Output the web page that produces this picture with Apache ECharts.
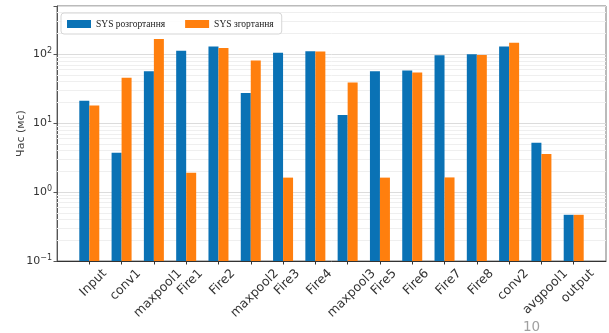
<!DOCTYPE html>
<html>
<head>
<meta charset="utf-8">
<script src="https://cdn.jsdelivr.net/npm/echarts@6/dist/echarts.min.js"></script>
<style>
  html, body { margin: 0; padding: 0; background: #fff; }
  #chart { width: 609px; height: 333px; }
</style>
</head>
<body>
<div id="chart"></div>
<script>
// SqueezeNet layers: execution time per layer, deployment vs. folding
const layers = ['Input', 'conv1', 'maxpool1', 'Fire1', 'Fire2', 'maxpool2', 'Fire3', 'Fire4',
                'maxpool3', 'Fire5', 'Fire6', 'Fire7', 'Fire8', 'conv2', 'avgpool1', 'output'];
const deployMs = [21.1, 3.73, 56.7, 112, 129, 27.3, 105, 110, 13.1, 56.7, 58, 96.7, 100, 129, 5.2, 0.468];
const foldMs   = [18.0, 45.4, 166, 1.91, 123, 80.8, 1.62, 109, 38.8, 1.62, 54.2, 1.63, 97.7, 146, 3.57, 0.468];
const seriesNames = ['SYS розгортання', 'SYS згортання'];
const yTicks = [0.1, 1, 10, 100];
const yMin = 0.1, yMax = 500;
const pageNumber = '10';

// light log grid lines between the decades
const minorGrid = [];
for (let d = 0.1; d < yMax; d *= 10) {
  for (let k = 2; k <= 9; k++) {
    const v = +(d * k).toPrecision(3);
    if (v < yMax) minorGrid.push({ yAxis: v });
  }
}

// one empty slot on each side keeps a margin around the groups
const xData = [''].concat(layers, ['']);
const pad = arr => [null].concat(arr, [null]);

// rotated category labels hang below their tick, centred on it
const LABEL_FONT = '12.5px "DejaVu Sans"';
const ctx = document.createElement('canvas').getContext('2d');
ctx.font = LABEL_FONT;
const labelData = layers.map((name, i) => [i + 1, yMin]);

const sup = { '-1': '−1', '0': '0', '1': '1', '2': '2', '3': '3' };

const chart = echarts.init(document.getElementById('chart'), null, { renderer: 'canvas' });
chart.setOption({
  animation: false,
  backgroundColor: '#fff',
  textStyle: { fontFamily: '"DejaVu Sans", sans-serif' },
  grid: {
    left: 57, right: 3, top: 6, bottom: 72,
    outerBoundsMode: 'none', containLabel: false,
    show: true, borderColor: '#777', borderWidth: 1, backgroundColor: 'transparent'
  },
  legend: {
    left: 61, top: 13,
    padding: [6, 8, 5, 6],
    itemWidth: 24, itemHeight: 8, itemGap: 20,
    icon: 'rect',
    backgroundColor: 'rgba(255,255,255,0.85)',
    borderColor: '#d6d6d6', borderWidth: 1, borderRadius: 3,
    textStyle: { fontFamily: '"Liberation Serif", serif', fontSize: 9.5, color: '#222' },
    data: seriesNames
  },
  xAxis: {
    type: 'category',
    data: xData,
    boundaryGap: false,
    axisLine: { lineStyle: { color: '#333', width: 1 } },
    axisTick: {
      length: 3.5, lineStyle: { color: '#333' },
      interval: (i) => i > 0 && i < xData.length - 1
    },
    axisLabel: { show: false },
    splitLine: { show: false }
  },
  yAxis: {
    type: 'log', logBase: 10, min: yMin, max: yMax, startValue: yMin,
    name: 'Час (мс)', nameLocation: 'middle', nameGap: 30, nameMoveOverlap: false,
    nameTextStyle: { fontSize: 11, color: '#444', fontFamily: '"DejaVu Sans", sans-serif' },
    axisLine: { show: true, lineStyle: { color: '#555' } },
    axisTick: { show: true, length: 3.5, lineStyle: { color: '#555' } },
    axisLabel: {
      margin: 5, color: '#333', fontSize: 11,
      formatter: (v) => {
        const e = Math.log10(v);
        const r = Math.round(e);
        if (Math.abs(e - r) > 1e-6 || !yTicks.some(t => Math.abs(Math.log10(t) - r) < 1e-6)) return '';
        return '10{s|' + sup[String(r)] + '}';
      },
      rich: { s: { fontSize: 8, color: '#333', verticalAlign: 'top', padding: [0, 0, 7, 0] } }
    },
    splitLine: { show: true, lineStyle: { color: '#dcdcdc', width: 1 } }
  },
  series: [
    {
      name: seriesNames[0], type: 'bar',
      data: pad(deployMs),
      barWidth: 10, barGap: '0%',
      itemStyle: { color: '#0a72b5' },
      z: 3,
      markLine: {
        silent: true, symbol: 'none', z: 1,
        label: { show: false },
        lineStyle: { color: '#efefef', width: 1, type: 'solid' },
        data: minorGrid
      }
    },
    {
      name: seriesNames[1], type: 'bar',
      data: pad(foldMs),
      barWidth: 10, barGap: '0%',
      itemStyle: { color: '#ff7f0e' },
      z: 3
    },
    {
      // category names under the axis, rotated by 45 degrees
      type: 'custom',
      silent: true,
      clip: false,
      data: labelData,
      renderItem: (params, api) => {
        const name = layers[params.dataIndex];
        const p = api.coord([api.value(0), api.value(1)]);
        const w = ctx.measureText(name).width;
        const drop = 7 + (w + 10) / (2 * Math.SQRT2);
        return {
          type: 'text',
          x: p[0] + 4, y: p[1] + drop,
          rotation: Math.PI / 4,
          style: {
            text: name, font: LABEL_FONT, fill: '#333',
            align: 'center', verticalAlign: 'middle'
          }
        };
      }
    }
  ],
  graphic: [{
    type: 'text', left: 523, top: 320,
    style: { text: pageNumber, fontSize: 13.5, fill: '#a0a0a0', fontFamily: '"DejaVu Sans", sans-serif' }
  }]
});
</script>
</body>
</html>
